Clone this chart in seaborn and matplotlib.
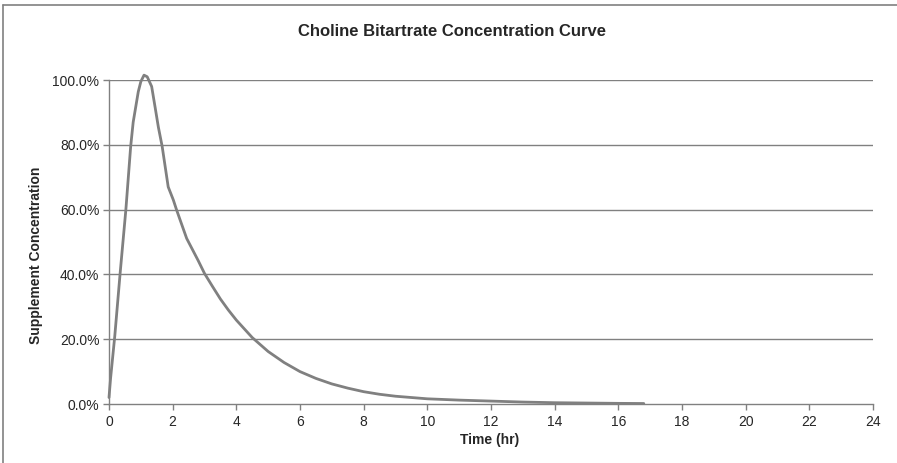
import matplotlib
matplotlib.use("Agg")
import matplotlib.pyplot as plt
import seaborn as sns
import pandas as pd
from matplotlib.lines import Line2D
from matplotlib.ticker import PercentFormatter

title = "Choline Bitartrate Concentration Curve"
x_label = "Time (hr)"
y_label = "Supplement Concentration"

time_hr = [0, 0.05, 0.18, 0.35, 0.53, 0.68, 0.76, 0.92, 1.0, 1.1, 1.2, 1.34, 1.45,
           1.55, 1.67, 1.86, 2.02, 2.12, 2.22, 2.44, 2.8, 3.0, 3.25, 3.5, 3.75, 4.0,
           4.5, 5.0, 5.5, 6.0, 6.5, 7.0, 7.5, 8.0, 8.5, 9.0, 10.0, 11.0, 12.0, 13.0,
           14.0, 15.0, 16.0, 16.8]
concentration = [0.02, 0.08, 0.208, 0.404, 0.60, 0.794, 0.87, 0.964, 0.995, 1.015,
                 1.01, 0.98, 0.915, 0.855, 0.795, 0.67, 0.63, 0.60, 0.572, 0.511,
                 0.443, 0.403, 0.363, 0.324, 0.290, 0.259, 0.205, 0.162, 0.128, 0.10,
                 0.079, 0.062, 0.049, 0.038, 0.030, 0.024, 0.016, 0.012, 0.009, 0.006,
                 0.004, 0.003, 0.002, 0.0015]
x_ticks = list(range(0, 25, 2))
y_ticks = [0.0, 0.2, 0.4, 0.6, 0.8, 1.0]

df = pd.DataFrame({"t": time_hr, "c": concentration})

sns.set_style("white")
plt.rcParams["font.family"] = ["Liberation Sans", "DejaVu Sans"]

fig = plt.figure(figsize=(8.97, 4.63), dpi=100)
ax = fig.add_axes([109 / 897, 1 - 404 / 463, (873 - 109) / 897, (404 - 80) / 463])

for y in y_ticks[1:]:
    ax.axhline(y, color="#808080", lw=1.0, zorder=1)

sns.lineplot(data=df, x="t", y="c", ax=ax, color="#808080", lw=2.0,
             zorder=3, clip_on=False)

ax.set_xlim(0, 24)
ax.set_ylim(0, 1.0)
ax.set_xticks(x_ticks)
ax.set_yticks(y_ticks)
ax.yaxis.set_major_formatter(PercentFormatter(1.0, decimals=1))
ax.tick_params(axis="both", direction="out", length=4, width=1, color="#808080",
               labelsize=10, pad=3, left=True, bottom=True)
ax.tick_params(axis="x", pad=4)

for side in ["top", "right"]:
    ax.spines[side].set_visible(False)
for side in ["left", "bottom"]:
    ax.spines[side].set_color("#808080")
    ax.spines[side].set_linewidth(1.0)

ax.set_xlabel(x_label, fontsize=10, fontweight="bold")
ax.set_ylabel(y_label, fontsize=10, fontweight="bold")
ax.xaxis.set_label_coords((490 - 109) / (873 - 109), -(440 - 404) / (404 - 80))
ax.yaxis.set_label_coords(-(109 - 36) / (873 - 109), (404 - 255) / (404 - 80))
ax.xaxis.label.set_va("center")
ax.yaxis.label.set_va("center")

fig.text(452 / 897, 1 - 32 / 463, title, ha="center", va="center",
         fontsize=12, fontweight="bold")

# chart border (top and left)
fig.add_artist(Line2D([3 / 897, 3 / 897], [0, 1 - 5 / 463], transform=fig.transFigure,
                      color="#808080", lw=1.2))
fig.add_artist(Line2D([3 / 897, 1], [1 - 5 / 463, 1 - 5 / 463], transform=fig.transFigure,
                      color="#808080", lw=1.2))

fig.savefig("out.png", dpi=100)
